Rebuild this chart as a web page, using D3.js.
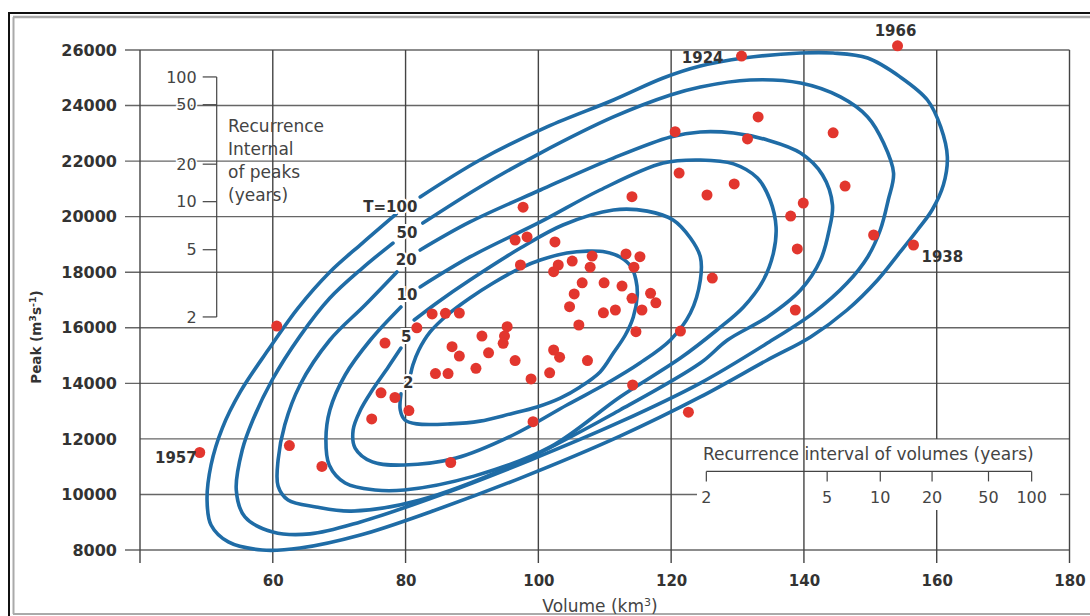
<!DOCTYPE html>
<html><head><meta charset="utf-8">
<script src="https://cdn.jsdelivr.net/npm/d3@7"></script>
<style>
body{margin:0;background:#fff}
svg{display:block}
text{font-family:"DejaVu Sans",Arial,sans-serif}
</style>
</head><body>
<svg id="c" width="1090" height="616"></svg>
<script>
// ---------- data ----------
const xTicks = [40, 60, 80, 100, 120, 140, 160, 180];
const xTickLabels = ["", "60", "80", "100", "120", "140", "160", "180"];
const yTicks = [8000, 10000, 12000, 14000, 16000, 18000, 20000, 22000, 24000, 26000];

// annual floods: volume (km3) and peak (m3/s)
const volume = [154.1,130.6,133.1,131.5,120.6,144.4,121.2,125.4,129.5,114.1,97.7,96.5,98.3,102.5,139.9,138.0,146.2,150.5,156.5,139.0,126.2,138.7,97.3,102.3,103.0,105.1,108.1,107.8,113.2,115.3,114.4,106.6,109.9,112.6,105.4,114.1,116.9,117.7,104.7,109.8,111.6,115.6,106.1,114.7,121.4,84.0,86.0,88.1,81.7,76.9,95.3,94.9,94.7,91.5,87.0,88.1,92.5,96.5,102.3,103.2,107.4,84.5,86.4,90.6,98.9,101.7,114.2,76.3,78.4,80.5,99.2,122.6,86.8,74.9,60.6,62.5,67.4,49.0];
const peak = [26150,25780,23590,22800,23060,23020,21570,20780,21180,20720,20340,19160,19270,19090,20490,20020,21100,19340,18980,18840,17790,16640,18260,18020,18260,18400,18580,18180,18660,18560,18180,17620,17620,17500,17220,17060,17240,16900,16760,16540,16640,16640,16100,15860,15880,16500,16520,16530,16000,15450,16040,15700,15440,15700,15320,14980,15100,14820,15200,14940,14820,14350,14350,14540,14160,14380,13940,13660,13490,13020,12620,12960,11150,12720,16060,11760,11010,11510];

const yearNames = ["1966", "1924", "1938", "1957"];
const yearVolume = [154.1, 130.6, 156.5, 49.0];
const yearPeak = [26150, 25780, 18980, 11510];

// joint recurrence-interval contours (volume, peak)
const contourT100 = [[78.6,20100],[73.5,19050],[68.6,18010],[63.8,16710],[59.3,15200],[55.1,13690],[52.4,12390],[50.7,11060],[50.1,9800],[50.7,8900],[53.3,8290],[58.4,8000],[64.1,8070],[73.2,8540],[83.7,9370],[97.3,10590],[112.3,12100],[124.4,13510],[134.5,14840],[141.0,15670],[146.5,16640],[151.1,17720],[154.5,18730],[157.1,19520],[159.3,20240],[161.0,21140],[161.6,22150],[160.6,23230],[158.6,24200],[154.5,25030],[149.6,25710],[144.4,25890],[139.5,25890],[130.9,25710],[124.4,25420],[118.8,24990],[111.3,24200],[101.3,23230],[91.2,22040],[82.2,20710]];
const contourT50 = [[78.1,19050],[73.5,18150],[68.6,17070],[64.1,15700],[59.9,14120],[57.0,12680],[55.4,11600],[54.5,10160],[55.8,9190],[60.0,8650],[65.6,8580],[73.2,9010],[85.2,9980],[98.8,11240],[112.3,12610],[124.4,14010],[134.5,15450],[141.4,16530],[146.5,17610],[149.6,18550],[151.5,19520],[152.7,20600],[153.5,21570],[152.0,22650],[149.6,23590],[145.5,24310],[139.5,24810],[131.9,24920],[124.4,24670],[119.9,24380],[111.3,23590],[100.3,22290],[91.2,21070],[82.6,19770]];
const contourT20 = [[78.7,18010],[73.9,16820],[68.6,15560],[64.1,13940],[61.8,12500],[60.8,11240],[60.8,10300],[62.3,9800],[66.5,9550],[71.8,9400],[82.2,9800],[97.3,11170],[112.3,13040],[124.4,14730],[128.5,15560],[134.5,16390],[139.5,17360],[142.5,18440],[143.8,19520],[144.3,20420],[142.8,21500],[139.5,22290],[134.5,22760],[129.4,23010],[124.4,23050],[119.9,22870],[111.3,22110],[100.3,20960],[89.7,19810],[82.2,18800]];
const contourT10 = [[79.3,16750],[74.7,15560],[70.9,14300],[68.6,13040],[68.0,11960],[68.5,11060],[70.9,10410],[75.4,10160],[79.8,10160],[90.3,10660],[101.8,11710],[112.3,13510],[121.4,14910],[126.9,15920],[130.9,16750],[133.9,17720],[135.4,18690],[135.8,19630],[134.9,20600],[133.0,21390],[129.4,21900],[124.4,22040],[118.8,21930],[109.3,20960],[100.3,19810],[89.7,18550],[82.2,17470]];
const contourT5 = [[79.3,15270],[77.4,14590],[75.0,13760],[73.2,13040],[72.1,12320],[72.4,11670],[75.0,11170],[79.8,11060],[87.6,11310],[96.2,12140],[104.3,13220],[110.4,14010],[115.3,14730],[119.9,15560],[122.9,16530],[124.4,17720],[124.4,18550],[122.9,19230],[120.3,19880],[116.4,20200],[111.3,20240],[103.7,19700],[97.3,18870],[89.7,17720],[84.9,16930],[81.3,16280]];
const contourT2 = [[79.3,13620],[79.2,13040],[79.9,12680],[81.7,12540],[86.7,12540],[91.2,12640],[95.8,12900],[99.8,13150],[103.3,13470],[106.3,13870],[109.3,14410],[111.3,15090],[113.1,15740],[114.3,16390],[114.9,17180],[114.7,17720],[114.0,18190],[112.3,18550],[110.1,18730],[107.4,18760],[104.3,18690],[100.3,18440],[97.3,18150],[93.2,17610],[89.7,17070],[86.3,16460],[83.7,15850],[82.0,15200],[81.1,14660],[80.8,14370]];

const contourLabels = ["T=100", "50", "20", "10", "5", "2"];
const contourLabelVolume = [77.7, 80.2, 80.1, 80.2, 80.1, 80.4];
const contourLabelPeak = [20350, 19410, 18440, 17180, 15670, 14010];

// recurrence interval of peaks (years) and equivalent peak
const peakRILabels = ["100", "50", "20", "10", "5", "2"];
const peakRIValues = [25030, 24030, 21890, 20540, 18810, 16390];
// recurrence interval of volumes (years) and equivalent volume
const volRILabels = ["2", "5", "10", "20", "50", "100"];
const volRIValues = [125.3, 143.5, 151.5, 159.3, 167.8, 174.3];

// ---------- drawing ----------
const svg = d3.select("#c");
const x = d3.scaleLinear().domain([40, 180]).range([140, 1069.5]);
const y = d3.scaleLinear().domain([8000, 26000]).range([550, 50]);

const textColor = "#333";

// frame
svg.append("line").attr("x1", 8).attr("y1", 13).attr("x2", 1090).attr("y2", 13).attr("stroke", "#111").attr("stroke-width", 2);
svg.append("line").attr("x1", 9).attr("y1", 12).attr("x2", 9).attr("y2", 616).attr("stroke", "#111").attr("stroke-width", 2);
svg.append("line").attr("x1", 13).attr("y1", 17).attr("x2", 1090).attr("y2", 17).attr("stroke", "#aaa").attr("stroke-width", 2.5);
svg.append("line").attr("x1", 13.5).attr("y1", 17).attr("x2", 13.5).attr("y2", 614).attr("stroke", "#aaa").attr("stroke-width", 2);
svg.append("line").attr("x1", 13).attr("y1", 614).attr("x2", 1090).attr("y2", 614).attr("stroke", "#aaa").attr("stroke-width", 2);

const grid = svg.append("g").attr("stroke-width", 1.4);
const yBottom = y(8000) + 13;
yTicks.forEach(v => {
  const start = (v === 12000 || v === 10000) ? x(40) : x(40) - 15;
  const segs = v === 10000 ? [[start, 697], [1060, x(180)]] : [[start, x(180)]];
  segs.forEach(s => grid.append("line").attr("x1", s[0]).attr("x2", s[1]).attr("y1", y(v)).attr("y2", y(v)).attr("stroke", "#666"));
});
xTicks.forEach(v => {
  const segs = v === 160 ? [[y(26000), y(12000)], [y(9440), yBottom]] : [[y(26000), yBottom]];
  segs.forEach(s => grid.append("line").attr("x1", x(v)).attr("x2", x(v)).attr("y1", s[0]).attr("y2", s[1]).attr("stroke", "#444"));
});

// axes (labels only)
const yAxis = svg.append("g").attr("transform", `translate(${x(40)},0)`)
  .call(d3.axisLeft(y).tickValues(yTicks).tickFormat(d3.format("d")).tickSize(0).tickPadding(23));
const xAxis = svg.append("g").attr("transform", `translate(0,${y(8000)})`)
  .call(d3.axisBottom(x).tickValues(xTicks).tickFormat((d, i) => xTickLabels[i]).tickSize(0).tickPadding(25));
[yAxis, xAxis].forEach(a => {
  a.select(".domain").remove();
  a.selectAll("text").attr("fill", textColor).attr("font-weight", "bold")
    .attr("font-family", '"DejaVu Sans",Arial,sans-serif');
});
yAxis.selectAll("text").attr("font-size", 16);
xAxis.selectAll("text").attr("font-size", 15);

// axis titles
const yt = svg.append("text").attr("transform", "translate(41,337) rotate(-90)")
  .attr("text-anchor", "middle").attr("font-size", 13.5).attr("font-weight", "bold").attr("fill", textColor);
yt.append("tspan").text("Peak (m");
yt.append("tspan").attr("baseline-shift", "super").attr("font-size", 9.5).text("3");
yt.append("tspan").text("s");
yt.append("tspan").attr("baseline-shift", "super").attr("font-size", 9.5).text("-1");
yt.append("tspan").text(")");

const xt = svg.append("text").attr("x", 600).attr("y", 612).attr("text-anchor", "middle")
  .attr("font-size", 17).attr("fill", "#444");
xt.append("tspan").text("Volume (km");
xt.append("tspan").attr("baseline-shift", "super").attr("font-size", 11).text("3");
xt.append("tspan").text(")");

// contours
const line = d3.line().x(d => x(d[0])).y(d => y(d[1])).curve(d3.curveCatmullRom.alpha(0.5));
const contours = [contourT100, contourT50, contourT20, contourT10, contourT5, contourT2];
svg.append("g").selectAll("path").data(contours).join("path")
  .attr("d", line).attr("fill", "none").attr("stroke", "#1f6ca6").attr("stroke-width", 3.6)
  .attr("stroke-linejoin", "round").attr("stroke-linecap", "round");

// contour labels
svg.append("g").selectAll("text").data(contourLabels).join("text")
  .attr("x", (d, i) => x(contourLabelVolume[i])).attr("y", (d, i) => y(contourLabelPeak[i]))
  .attr("dy", "0.36em").attr("text-anchor", "middle")
  .attr("font-size", 15).attr("font-weight", "bold").attr("fill", textColor)
  .attr("stroke", "#fff").attr("stroke-width", 4).attr("paint-order", "stroke")
  .text(d => d);

// points
svg.append("g").selectAll("circle").data(volume).join("circle")
  .attr("cx", d => x(d)).attr("cy", (d, i) => y(peak[i])).attr("r", 5.5)
  .attr("fill", "#e2362e");

// year labels
const yearOffsets = [[-2, -10, "middle"], [-18, 7, "end"], [8, 17, "start"], [-3, 10.5, "end"]];
svg.append("g").selectAll("text").data(yearNames).join("text")
  .attr("x", (d, i) => x(yearVolume[i]) + yearOffsets[i][0])
  .attr("y", (d, i) => y(yearPeak[i]) + yearOffsets[i][1])
  .attr("text-anchor", (d, i) => yearOffsets[i][2])
  .attr("font-size", 15).attr("font-weight", "bold").attr("fill", textColor)
  .text(d => d);

// inset: recurrence interval of peaks
const pInset = svg.append("g");
const pLineX = 216.7;
pInset.append("line").attr("x1", pLineX).attr("x2", pLineX)
  .attr("y1", y(peakRIValues[0])).attr("y2", y(peakRIValues[peakRIValues.length - 1]))
  .attr("stroke", "#444").attr("stroke-width", 1.2);
peakRIValues.forEach((v, i) => {
  pInset.append("line").attr("x1", pLineX - 14).attr("x2", pLineX).attr("y1", y(v)).attr("y2", y(v))
    .attr("stroke", "#444").attr("stroke-width", 1.2);
  pInset.append("text").attr("x", pLineX - 20).attr("y", y(v)).attr("dy", "0.36em")
    .attr("text-anchor", "end").attr("font-size", 16).attr("fill", "#444")
    .attr("stroke", "#fff").attr("stroke-width", 3).attr("paint-order", "stroke")
    .text(peakRILabels[i]);
});
["Recurrence", "Internal", "of peaks", "(years)"].forEach((t, i) => {
  pInset.append("text").attr("x", 228).attr("y", 132 + i * 23).attr("font-size", 17).attr("fill", "#444").text(t);
});

// inset: recurrence interval of volumes
const vInset = svg.append("g");
const vLineY = 471.4;
vInset.append("text").attr("x", 703).attr("y", 460).attr("font-size", 17).attr("fill", "#444")
  .text("Recurrence interval of volumes (years)");
vInset.append("line").attr("x1", x(volRIValues[0])).attr("x2", x(volRIValues[volRIValues.length - 1]))
  .attr("y1", vLineY).attr("y2", vLineY).attr("stroke", "#444").attr("stroke-width", 1.2);
volRIValues.forEach((v, i) => {
  vInset.append("line").attr("x1", x(v)).attr("x2", x(v)).attr("y1", vLineY).attr("y2", vLineY + 10)
    .attr("stroke", "#444").attr("stroke-width", 1.2);
  vInset.append("text").attr("x", x(v)).attr("y", 503).attr("text-anchor", "middle")
    .attr("font-size", 16).attr("fill", "#444").text(volRILabels[i]);
});
</script>
</body></html>
